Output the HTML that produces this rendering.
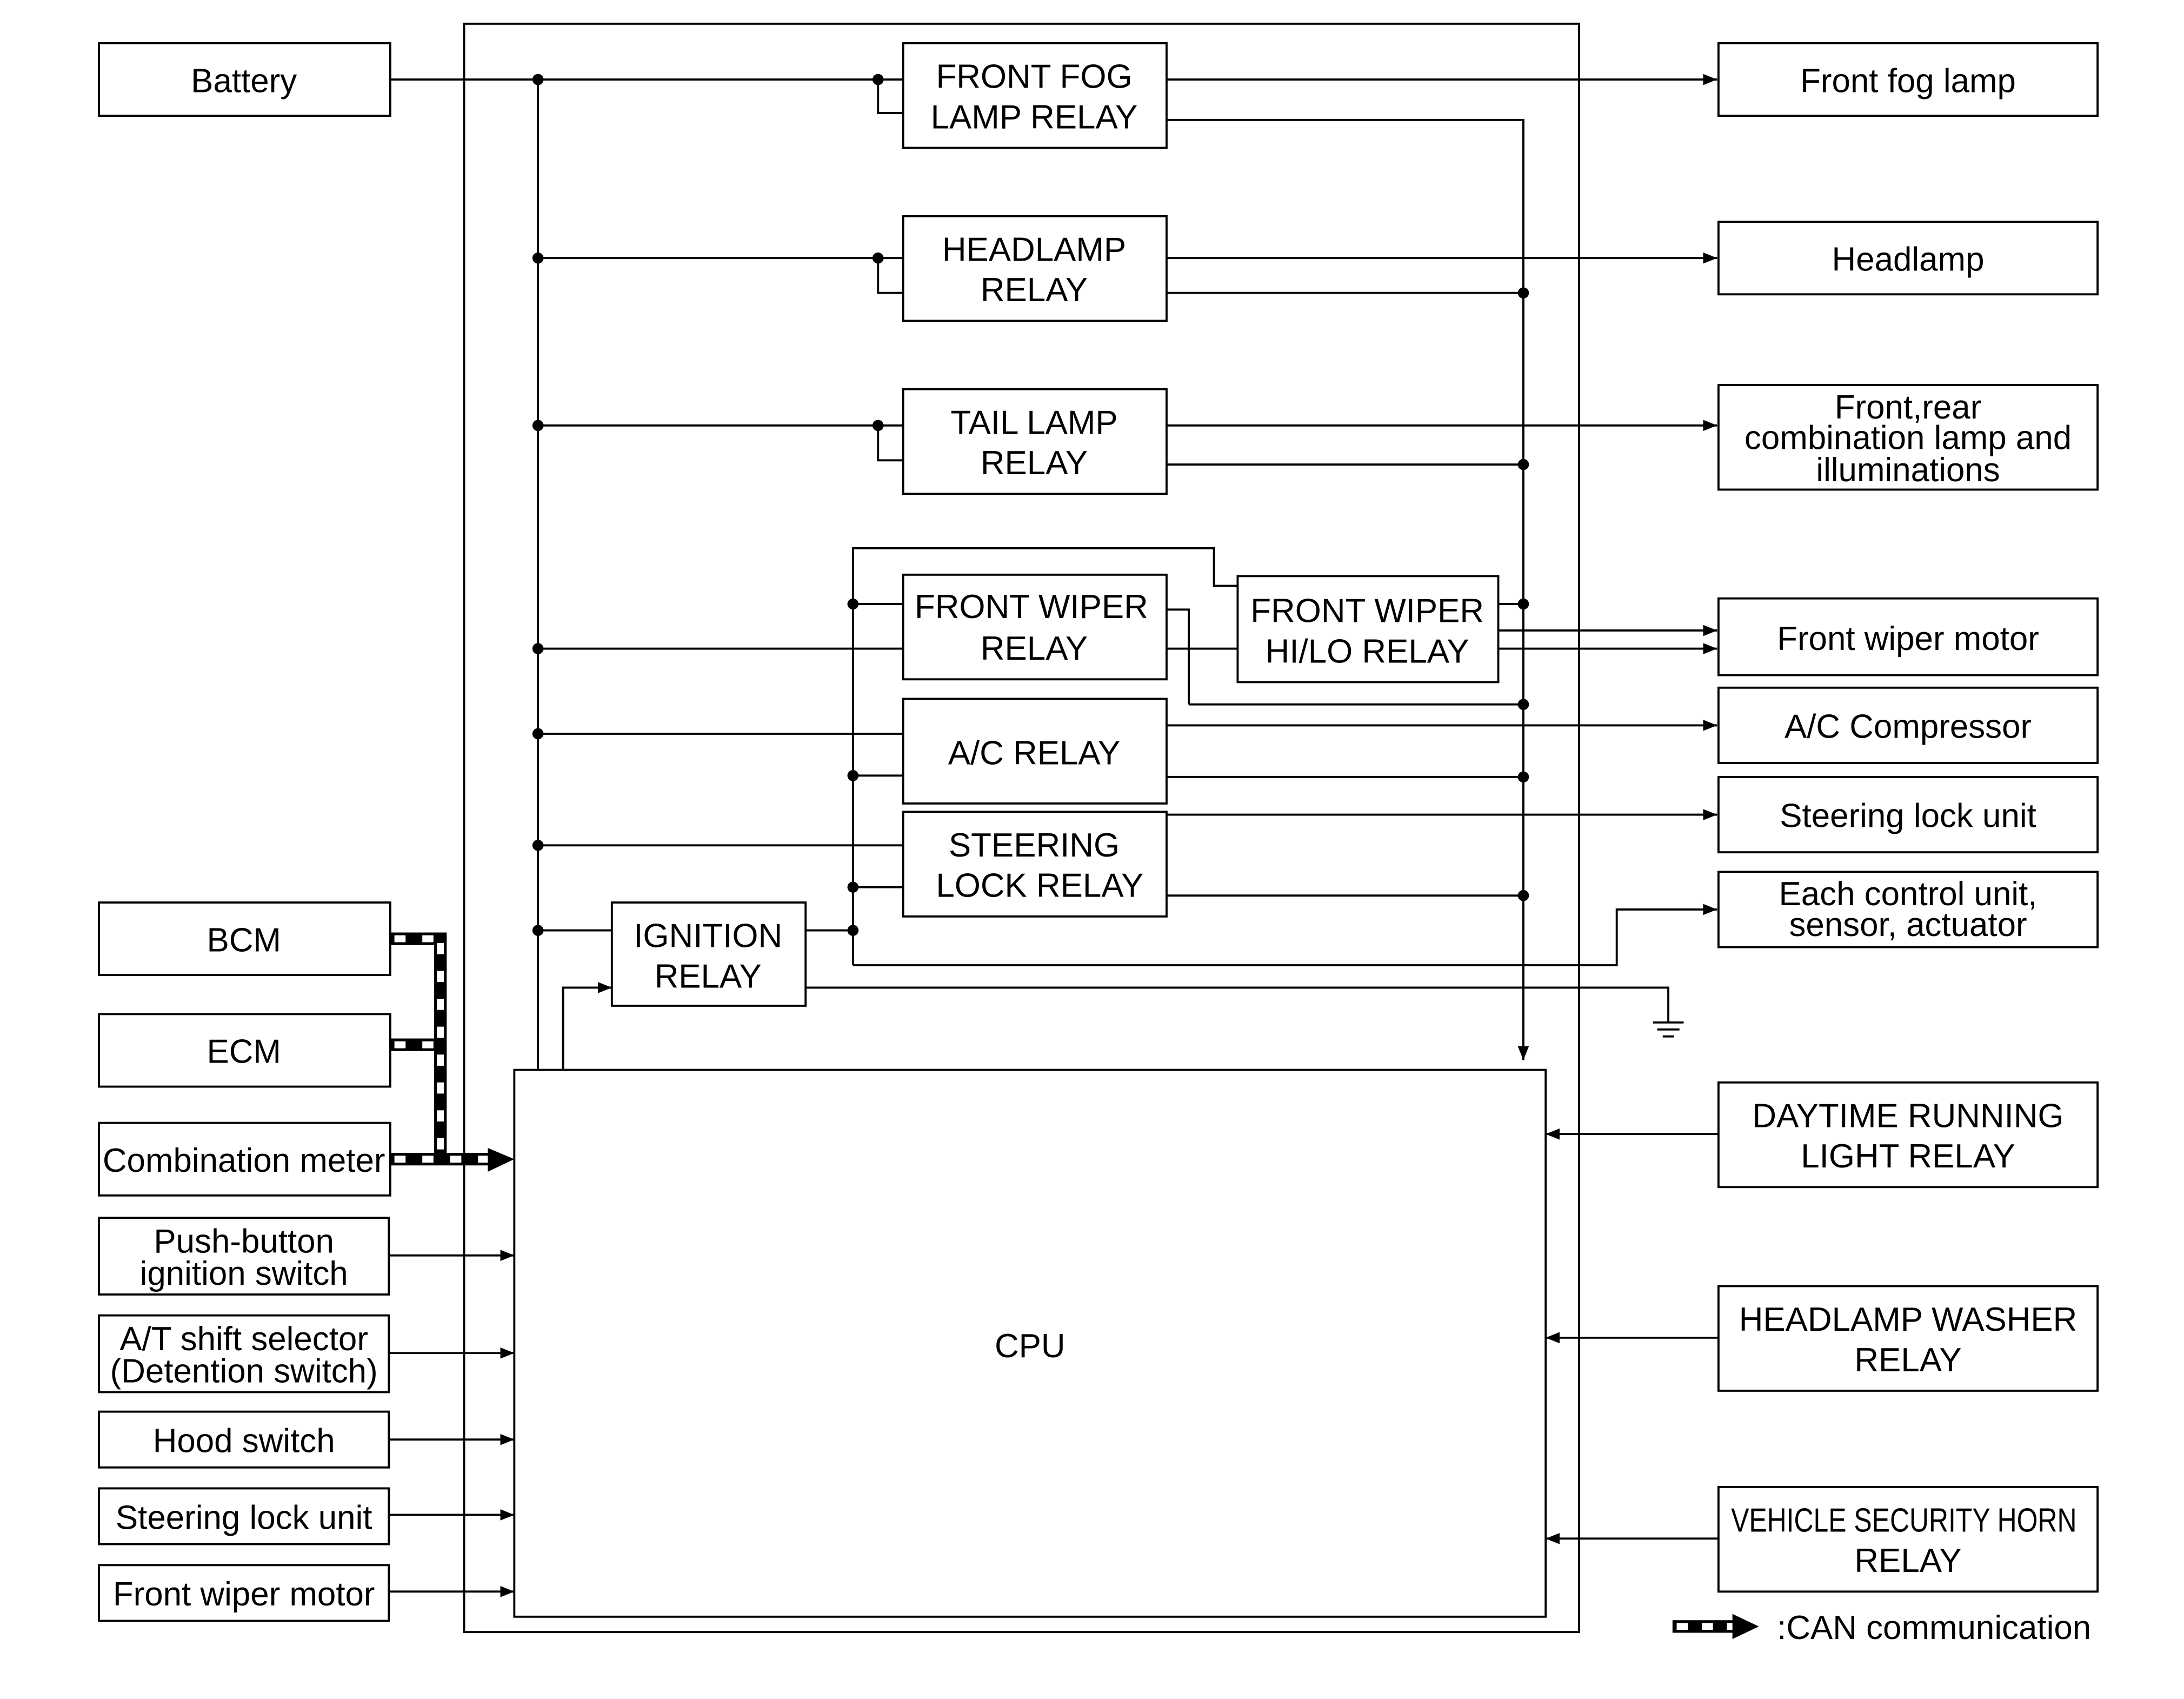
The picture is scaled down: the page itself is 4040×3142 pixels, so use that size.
<!DOCTYPE html>
<html><head><meta charset="utf-8"><style>html,body{margin:0;padding:0;background:#fff}svg{display:block}</style></head>
<body>
<svg xmlns="http://www.w3.org/2000/svg" width="4040" height="3142" viewBox="0 0 1567 1218" preserveAspectRatio="none">
<defs>
<marker id="a" markerWidth="10" markerHeight="8" refX="10" refY="4" orient="auto" markerUnits="userSpaceOnUse"><path d="M0,0 L16,4 L0,8 z" fill="#000" transform="scale(0.625,1)"/></marker>
</defs>
<g fill="none" stroke="#000" stroke-width="1.5">
<rect x="333" y="17" width="800" height="1153"/>
<rect x="369" y="767" width="740" height="392"/>
<rect x="71" y="31" width="209" height="52"/>
<rect x="71" y="647" width="209" height="52"/>
<rect x="71" y="727" width="209" height="52"/>
<rect x="71" y="805" width="209" height="52"/>
<rect x="71" y="873" width="208" height="55"/>
<rect x="71" y="943" width="208" height="55"/>
<rect x="71" y="1012" width="208" height="40"/>
<rect x="71" y="1067" width="208" height="40"/>
<rect x="71" y="1122" width="208" height="40"/>
<rect x="1233" y="31" width="272" height="52"/>
<rect x="1233" y="159" width="272" height="52"/>
<rect x="1233" y="276" width="272" height="75"/>
<rect x="1233" y="429" width="272" height="55"/>
<rect x="1233" y="493" width="272" height="54"/>
<rect x="1233" y="557" width="272" height="54"/>
<rect x="1233" y="625" width="272" height="54"/>
<rect x="1233" y="776" width="272" height="75"/>
<rect x="1233" y="922" width="272" height="75"/>
<rect x="1233" y="1066" width="272" height="75"/>
<rect x="648" y="31" width="189" height="75"/>
<rect x="648" y="155" width="189" height="75"/>
<rect x="648" y="279" width="189" height="75"/>
<rect x="648" y="412" width="189" height="75"/>
<rect x="888" y="413" width="187" height="76"/>
<rect x="648" y="501" width="189" height="75"/>
<rect x="648" y="582" width="189" height="75"/>
<rect x="439" y="647" width="139" height="74"/>
<path d="M280,57 H648 M630,57 V81 H648 M386,57 V767"/>
<path d="M386,185 H648 M630,185 V210 H648"/>
<path d="M386,305 H648 M630,305 V330 H648"/>
<path d="M386,465 H648 M386,526 H648 M386,606 H648 M386,667 H439"/>
<path d="M837,86 H1093 V760" marker-end="url(#a)"/>
<path d="M837,210 H1093 M837,333 H1093 M853,505 H1093 M837,557 H1093 M837,642 H1093 M1075,433 H1093"/>
<path d="M837,437 H853 V505 M837,465 H888"/>
<path d="M612,692 V393 H871 V420 H888 M612,433 H648 M612,556 H648 M612,636 H648 M578,667 H612"/>
<path d="M612,692 H1160 V652 H1232" marker-end="url(#a)"/>
<path d="M578,708 H1197 V733 M1186,733 H1208 M1189,738 H1205 M1193,743 H1201"/>
<path d="M404,767 V708 H439" marker-end="url(#a)"/>
<path d="M837,57 H1232" marker-end="url(#a)"/>
<path d="M837,185 H1232" marker-end="url(#a)"/>
<path d="M837,305 H1232" marker-end="url(#a)"/>
<path d="M1075,452 H1232" marker-end="url(#a)"/>
<path d="M1075,465 H1232" marker-end="url(#a)"/>
<path d="M837,520 H1232" marker-end="url(#a)"/>
<path d="M837,584 H1232" marker-end="url(#a)"/>
<path d="M279,900 H369" marker-end="url(#a)"/>
<path d="M279,970 H369" marker-end="url(#a)"/>
<path d="M279,1032 H369" marker-end="url(#a)"/>
<path d="M279,1086 H369" marker-end="url(#a)"/>
<path d="M279,1141 H369" marker-end="url(#a)"/>
<path d="M1233,813 H1109" marker-end="url(#a)"/>
<path d="M1233,959 H1109" marker-end="url(#a)"/>
<path d="M1233,1103 H1109" marker-end="url(#a)"/>
</g>
<g fill="none" stroke="#000" stroke-width="9">
<path d="M280,673 H316 V831 M280,749 H316 M280,831 H355"/>
<path d="M1200,1166 H1245"/>
</g>
<g fill="none" stroke="#fff" stroke-width="5" stroke-dasharray="8,12">
<path d="M283,673 H316 M283,749 H312 M316,676 V831 M283,831 H355"/>
<path d="M1203,1166 H1245" stroke-dasharray="8,10"/>
</g>
<path d="M350,823 L369,831 L350,840 z M1243,1157 L1262,1166 L1243,1175 z" fill="#000"/>
<g fill="#000">
<circle cx="386" cy="57" r="4"/><circle cx="630" cy="57" r="4"/>
<circle cx="386" cy="185" r="4"/><circle cx="630" cy="185" r="4"/>
<circle cx="386" cy="305" r="4"/><circle cx="630" cy="305" r="4"/>
<circle cx="386" cy="465" r="4"/><circle cx="386" cy="526" r="4"/><circle cx="386" cy="606" r="4"/><circle cx="386" cy="667" r="4"/>
<circle cx="612" cy="433" r="4"/><circle cx="612" cy="556" r="4"/><circle cx="612" cy="636" r="4"/><circle cx="612" cy="667" r="4"/>
<circle cx="1093" cy="210" r="4"/><circle cx="1093" cy="333" r="4"/><circle cx="1093" cy="433" r="4"/><circle cx="1093" cy="505" r="4"/><circle cx="1093" cy="557" r="4"/><circle cx="1093" cy="642" r="4"/>
</g>
<g font-family="Liberation Sans, sans-serif" font-size="24" text-anchor="middle" fill="#000">
<text x="175" y="66">Battery</text>
<text x="175" y="682">BCM</text>
<text x="175" y="762">ECM</text>
<text x="175" y="840">Combination meter</text>
<text x="175" y="898">Push-button</text>
<text x="175" y="921">ignition switch</text>
<text x="175" y="968">A/T shift selector</text>
<text x="175" y="991">(Detention switch)</text>
<text x="175" y="1041">Hood switch</text>
<text x="175" y="1096">Steering lock unit</text>
<text x="175" y="1151">Front wiper motor</text>
<text x="742" y="63">FRONT FOG</text><text x="742" y="92">LAMP RELAY</text>
<text x="742" y="187">HEADLAMP</text><text x="742" y="216">RELAY</text>
<text x="742" y="311">TAIL LAMP</text><text x="742" y="340">RELAY</text>
<text x="740" y="443">FRONT WIPER</text><text x="742" y="473">RELAY</text>
<text x="981" y="446">FRONT WIPER</text><text x="981" y="475">HI/LO RELAY</text>
<text x="742" y="548">A/C RELAY</text>
<text x="742" y="614">STEERING</text><text x="746" y="643">LOCK RELAY</text>
<text x="508" y="679">IGNITION</text><text x="508" y="708">RELAY</text>
<text x="739" y="973">CPU</text>
<text x="1369" y="66">Front fog lamp</text>
<text x="1369" y="194">Headlamp</text>
<text x="1369" y="300">Front,rear</text>
<text x="1369" y="322">combination lamp and</text>
<text x="1369" y="345">illuminations</text>
<text x="1369" y="466">Front wiper motor</text>
<text x="1369" y="529">A/C Compressor</text>
<text x="1369" y="593">Steering lock unit</text>
<text x="1369" y="649">Each control unit,</text>
<text x="1369" y="671">sensor, actuator</text>
<text x="1369" y="808">DAYTIME RUNNING</text><text x="1369" y="837">LIGHT RELAY</text>
<text x="1369" y="954">HEADLAMP WASHER</text><text x="1369" y="983">RELAY</text>
<text x="1366" y="1098" textLength="248" lengthAdjust="spacingAndGlyphs">VEHICLE SECURITY HORN</text><text x="1369" y="1127">RELAY</text>
<text x="1275" y="1175" text-anchor="start">:CAN communication</text>
</g>
</svg>
</body></html>
